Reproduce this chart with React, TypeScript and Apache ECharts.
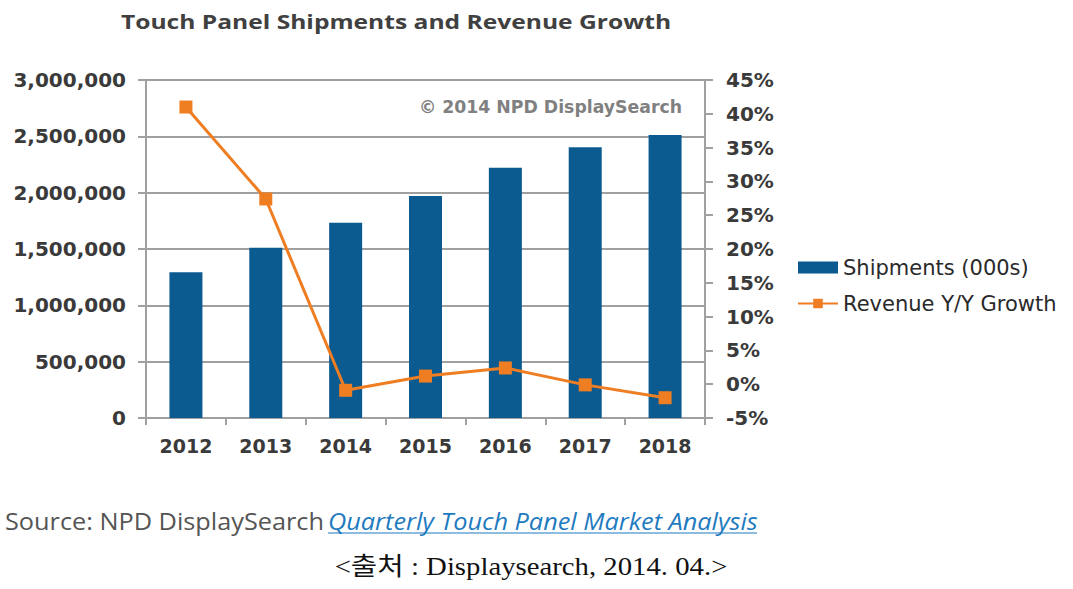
import React, { useEffect, useRef } from "react";
import * as echarts from "echarts";

const years = ["2012", "2013", "2014", "2015", "2016", "2017", "2018"];
const shipments = [1293000, 1511000, 1733000, 1970000, 2222000, 2403000, 2512000];
const revenueGrowth = [41.0, 27.4, -0.9, 1.2, 2.4, -0.1, -2.0];

const titleText = "Touch Panel Shipments and Revenue Growth";
const watermark = "© 2014 NPD DisplaySearch";
const sourceLead = "Source: NPD DisplaySearch ";
const sourceLink = "Quarterly Touch Panel Market Analysis";
const koreanNote = "<출처 : Displaysearch, 2014. 04.>";

export default function App() {
  const ref = useRef<HTMLDivElement>(null);
  useEffect(() => {
    if (!ref.current) return;
    const chart = echarts.init(ref.current, null, { renderer: "svg" });
    const axisFont = { fontFamily: "DejaVu Sans", fontWeight: "bold" as const, color: "#3a3a3a" };
    const gray = "#a0a0a0";
    chart.setOption({
      animation: false,
      backgroundColor: "#ffffff",
      grid: { left: 146, right: 368, top: 80, bottom: 171, containLabel: false },
      xAxis: {
        type: "category",
        data: years,
        boundaryGap: true,
        axisLine: { show: true, lineStyle: { color: gray, width: 2 } },
        axisTick: { show: true, length: 7, lineStyle: { color: gray, width: 2 } },
        axisLabel: { ...axisFont, fontSize: 19, margin: 18 },
      },
      yAxis: [
        {
          type: "value",
          min: 0,
          max: 3000000,
          interval: 500000,
          position: "left",
          axisLine: { show: true, lineStyle: { color: gray, width: 2 } },
          axisTick: { show: true, length: 8, lineStyle: { color: gray, width: 2 } },
          splitLine: { show: true, lineStyle: { color: gray, width: 2 } },
          axisLabel: {
            ...axisFont,
            fontSize: 20,
            margin: 20,
            formatter: (v: number) => v.toLocaleString("en-US"),
          },
        },
        {
          type: "value",
          min: -5,
          max: 45,
          interval: 5,
          position: "right",
          axisLine: { show: true, lineStyle: { color: gray, width: 2 } },
          axisTick: { show: true, length: 8, lineStyle: { color: gray, width: 2 } },
          splitLine: { show: false },
          axisLabel: { ...axisFont, fontSize: 20, margin: 21, formatter: (v: number) => v + "%" },
        },
      ],
      legend: {
        orient: "vertical",
        left: 792,
        top: 252,
        itemWidth: 40,
        itemHeight: 12,
        itemGap: 15,
        textStyle: { fontFamily: "DejaVu Sans", fontSize: 21, color: "#2a2a2a" },
        data: [
          { name: "Shipments (000s)", icon: "rect" },
          { name: "Revenue Y/Y Growth" },
        ],
      },
      graphic: [
        {
          type: "text",
          x: 121,
          y: 21,
          scaleX: 1.23,
          style: {
            text: titleText,
            verticalAlign: "middle",
            fontFamily: "Open Sans",
            fontWeight: "bold",
            fontSize: 20,
            fill: "#404040",
          },
        },
        {
          type: "text",
          x: 682,
          y: 107,
          style: {
            text: watermark,
            align: "right",
            verticalAlign: "middle",
            fontFamily: "DejaVu Sans",
            fontWeight: "bold",
            fontSize: 17.3,
            fill: "#808080",
          },
        },
        {
          type: "text",
          x: 5,
          y: 521,
          scaleX: 1.1,
          style: {
            text: sourceLead,
            verticalAlign: "middle",
            fontFamily: "Open Sans",
            fontSize: 23,
            fill: "#555555",
          },
        },
        {
          type: "text",
          x: 328,
          y: 521,
          scaleX: 1.1,
          style: {
            text: sourceLink,
            verticalAlign: "middle",
            fontFamily: "Open Sans",
            fontStyle: "italic",
            fontSize: 23,
            fill: "#1f7bbf",
          },
        },
        {
          type: "line",
          shape: { x1: 328, y1: 533, x2: 757, y2: 533 },
          style: { stroke: "#1f7bbf", lineWidth: 1.2 },
        },
        {
          type: "text",
          x: 531,
          y: 567,
          scaleX: 1.15,
          style: {
            text: koreanNote,
            align: "center",
            verticalAlign: "middle",
            fontFamily: "Liberation Serif, Noto Sans CJK KR",
            fontSize: 25,
            fill: "#111111",
          },
        },
      ],
      series: [
        {
          name: "Shipments (000s)",
          type: "bar",
          yAxisIndex: 0,
          data: shipments,
          barWidth: 33,
          itemStyle: { color: "#0b5b91" },
        },
        {
          name: "Revenue Y/Y Growth",
          type: "line",
          yAxisIndex: 1,
          data: revenueGrowth,
          symbol: "rect",
          symbolSize: 13,
          lineStyle: { color: "#ef7d22", width: 3 },
          itemStyle: { color: "#ef7d22" },
        },
      ],
    });
    return () => chart.dispose();
  }, []);
  return <div ref={ref} style={{ width: 1073, height: 589, position: "absolute", left: 0, top: 0 }} />;
}
